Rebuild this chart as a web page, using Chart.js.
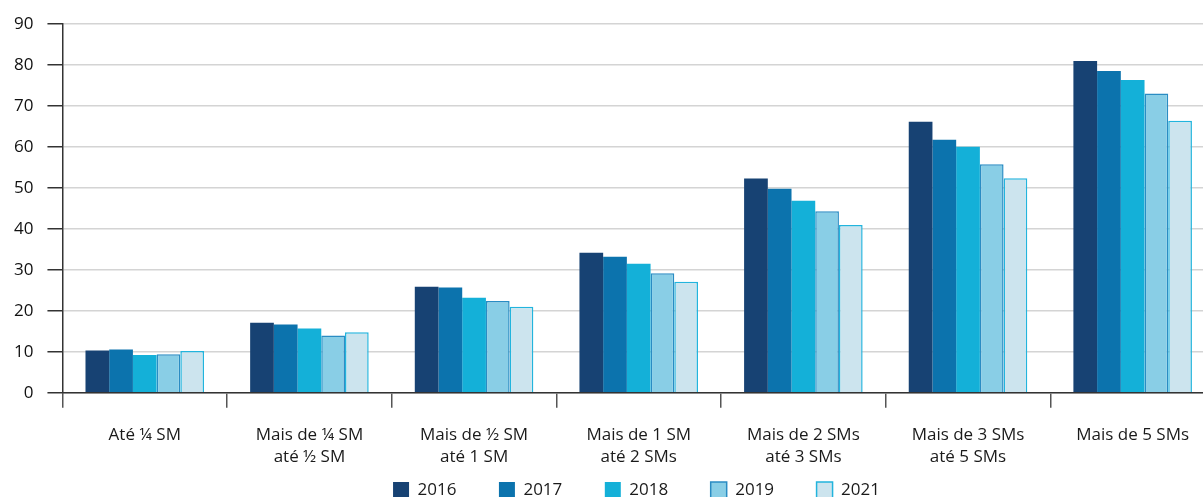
<!DOCTYPE html>
<html lang="pt">
<head>
<meta charset="utf-8">
<title>Distribuição por faixa de rendimento</title>
<script src="https://cdn.jsdelivr.net/npm/chart.js@4/dist/chart.umd.min.js"></script>
<style>
  html, body { margin: 0; padding: 0; background: #ffffff; overflow: hidden; }
  #wrap { position: relative; width: 1215px; height: 497px; }
</style>
</head>
<body>
<div id="wrap"><canvas id="chart"></canvas></div>
<script>
// Income brackets (in minimum wages, SM)
const categories = [
  'Até ¼ SM',
  ['Mais de ¼ SM', 'até ½ SM'],
  ['Mais de ½ SM', 'até 1 SM'],
  ['Mais de 1 SM', 'até 2 SMs'],
  ['Mais de 2 SMs', 'até 3 SMs'],
  ['Mais de 3 SMs', 'até 5 SMs'],
  'Mais de 5 SMs'
];

const years = ['2016', '2017', '2018', '2019', '2021'];

const values2016 = [10.3, 17.1, 25.9, 34.2, 52.3, 66.2, 81.0];
const values2017 = [10.6, 16.7, 25.7, 33.2, 49.8, 61.8, 78.6];
const values2018 = [9.2, 15.7, 23.2, 31.5, 46.9, 60.1, 76.4];
const values2019 = [9.4, 14.0, 22.4, 29.2, 44.3, 55.8, 73.1];
const values2021 = [10.2, 14.8, 21.0, 27.1, 41.0, 52.4, 66.4];

const yTicks = [0, 10, 20, 30, 40, 50, 60, 70, 80, 90];

const seriesValues = [values2016, values2017, values2018, values2019, values2021];
const fills   = ['#174273', '#0c73ad', '#14b0d8', '#89cee6', '#cce4ee'];
const borders = ['#174273', '#0c73ad', '#14b0d8', '#2a8cc3', '#22b4dd'];
const borderW = [0, 0, 0, 1.5, 1.5];

const FONT = '"Open Sans", "DejaVu Sans", sans-serif';

const LEGEND_PAD = 42.5;      // horizontal gap between legend items
const LEGEND_ROW_H = 13;      // space reserved for the legend row in the layout
const LEGEND_CENTER_Y = 490;  // vertical centre of the legend row
const LEGEND_SHIFT_X = 29;

// Keeps the legend compact in the layout and places its row explicitly
const legendPlacement = {
  id: 'legendPlacement',
  beforeUpdate(chart) {
    const lg = chart.legend;
    if (lg && !lg._compactFit) {
      const fit = lg.fit;
      lg.fit = function () {
        fit.call(this);
        if (this.isHorizontal()) this.height = LEGEND_ROW_H;
      };
      lg._compactFit = true;
    }
  },
  afterLayout(chart) {
    const lg = chart.legend;
    if (!lg) return;
    const fontSize = lg.options.labels.font.size || 17;
    lg.top = LEGEND_CENTER_Y - LEGEND_PAD - fontSize / 2;
    lg.bottom = chart.height + 20;
    lg.height = lg.bottom - lg.top;
    lg.left += LEGEND_SHIFT_X;
    lg.right += LEGEND_SHIFT_X;
  }
};

new Chart(document.getElementById('chart'), {
  type: 'bar',
  data: {
    labels: categories,
    datasets: years.map((y, i) => ({
      label: y,
      data: seriesValues[i],
      backgroundColor: fills[i],
      borderColor: borders[i],
      borderWidth: borderW[i],
      borderSkipped: 'start',
      categoryPercentage: 0.72,
      barPercentage: 1.0
    }))
  },
  options: {
    responsive: true,
    maintainAspectRatio: false,
    animation: false,
    layout: { padding: { left: 0, right: 0, top: 15, bottom: 0 } },
    plugins: {
      tooltip: { enabled: false },
      legend: {
        position: 'bottom',
        labels: {
          boxWidth: 16,
          boxHeight: 16,
          padding: LEGEND_PAD,
          color: '#1a1a1a',
          font: { family: FONT, size: 17 }
        }
      }
    },
    scales: {
      x: {
        grid: {
          offset: true,
          drawOnChartArea: false,
          drawTicks: true,
          tickLength: 15,
          tickColor: '#555555',
          lineWidth: 1.5
        },
        border: { display: true, color: '#333333', width: 1.5 },
        ticks: {
          color: '#1a1a1a',
          padding: 16,
          maxRotation: 0,
          autoSkip: false,
          font: { family: FONT, size: 17, lineHeight: 1.3 }
        }
      },
      y: {
        min: 0,
        max: 90,
        afterBuildTicks(axis) { axis.ticks = yTicks.map(v => ({ value: v })); },
        grid: {
          color: '#d4d4d4',
          lineWidth: 1.5,
          tickColor: '#333333',
          tickLength: 15
        },
        border: { display: true, color: '#333333', width: 1.5 },
        ticks: {
          color: '#111111',
          padding: 14,
          font: { family: FONT, size: 17 }
        }
      }
    }
  },
  plugins: [legendPlacement]
});
</script>
</body>
</html>
